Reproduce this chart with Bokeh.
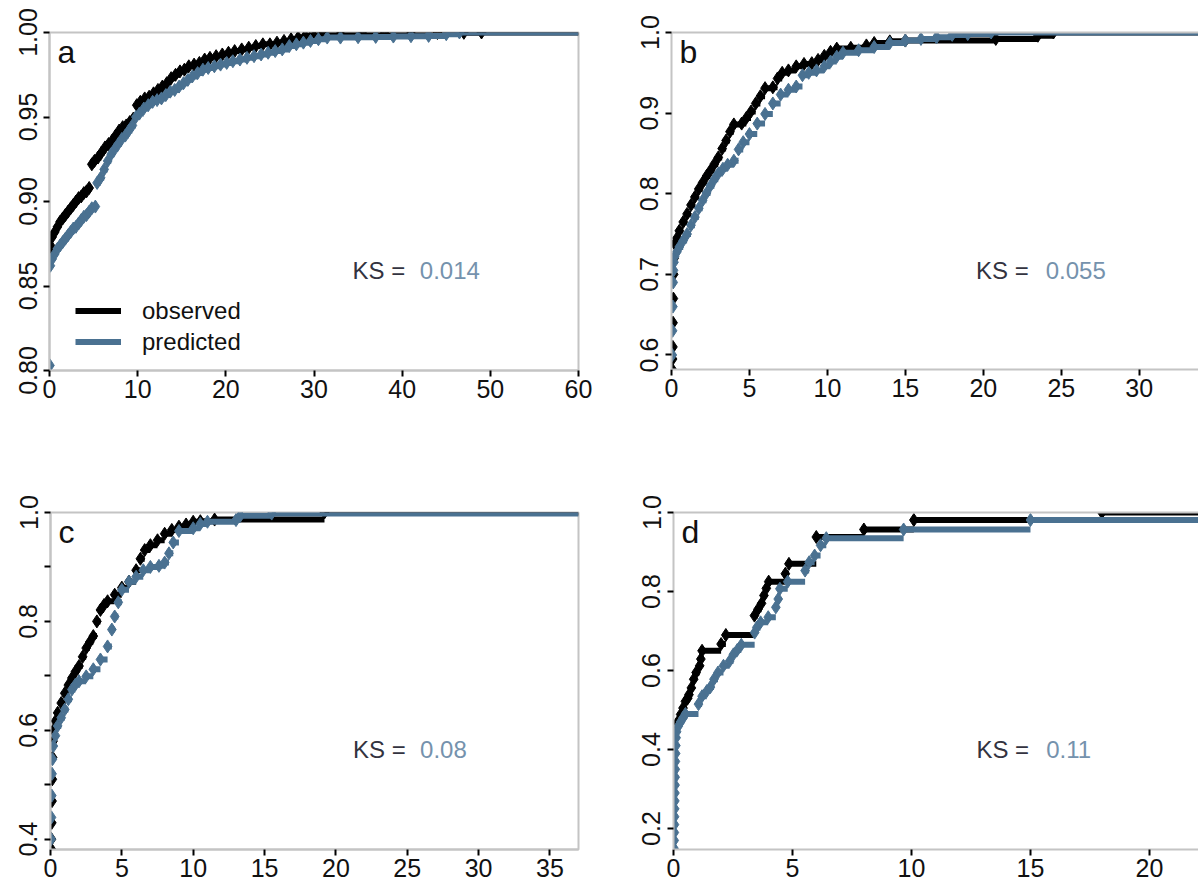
from bokeh.plotting import figure
from bokeh.models import (Range1d, FixedTicker, LinearAxis, Label, Legend,
                          LegendItem, ColumnDataSource)
from bokeh.layouts import column, row
from bokeh.embed import file_html
from bokeh.resources import INLINE

# ---------------- data ----------------
# panel a
obs_a_x = [0.05, 0.1, 0.3, 0.6, 0.9, 1.2, 1.5, 1.8, 2.1, 2.4, 2.7, 3.0, 3.3, 3.6, 3.9, 4.2, 4.5,
           4.8, 5.1, 5.5, 5.9, 6.3, 6.7, 7.1, 7.5, 7.9, 8.3, 8.7, 9.1, 9.5, 9.9, 10.3, 10.8,
           11.3, 11.8, 12.3, 12.8, 13.3, 13.8, 14.3, 14.8, 15.3, 15.8, 16.4, 17.0, 17.6, 18.2,
           18.9, 19.6, 20.3, 21.0, 21.8, 22.6, 23.4, 24.2, 25.0, 25.8, 26.6, 27.4, 28.2, 29.0,
           29.8, 31.0, 33.0, 35.5, 38.0, 41.0, 44.0, 47.0, 49.0]
obs_a_y = [0.870, 0.874, 0.879, 0.882, 0.885, 0.888, 0.890, 0.892, 0.894, 0.896, 0.898, 0.900,
           0.902, 0.903, 0.905, 0.906, 0.908, 0.922, 0.924, 0.926, 0.929, 0.932, 0.934, 0.936,
           0.939, 0.942, 0.944, 0.945, 0.947, 0.949, 0.957, 0.959, 0.961, 0.962, 0.964, 0.966,
           0.968, 0.970, 0.973, 0.975, 0.977, 0.978, 0.980, 0.981, 0.982, 0.984, 0.985, 0.986,
           0.987, 0.988, 0.989, 0.990, 0.991, 0.992, 0.993, 0.993, 0.994, 0.995, 0.996, 0.997,
           0.998, 0.999, 0.999, 0.9992, 0.9994, 0.9995, 0.9996, 0.9997, 0.9998, 1.0]
pred_a_x = [0.05, 0.1, 0.3, 0.6, 0.9, 1.2, 1.5, 1.8, 2.1, 2.4, 2.7, 3.0, 3.3, 3.6, 3.9, 4.2, 4.5,
            4.8, 5.2, 5.4, 5.8, 6.2, 6.6, 7.0, 7.4, 7.8, 8.2, 8.6, 9.0, 9.4, 9.8, 10.2, 10.7,
            11.2, 11.7, 12.2, 12.7, 13.2, 13.7, 14.2, 14.7, 15.2, 15.7, 16.2, 16.8, 17.4, 18.0,
            18.7, 19.4, 20.1, 20.8, 21.6, 22.4, 23.2, 24.0, 24.8, 25.6, 26.4, 27.2, 28.0, 28.8,
            29.6, 30.5, 31.5, 33.0, 35.0, 37.0, 39.0, 41.0, 43.0, 45.0, 46.5]
pred_a_y = [0.803, 0.862, 0.866, 0.869, 0.872, 0.874, 0.876, 0.878, 0.880, 0.882, 0.884, 0.885,
            0.887, 0.889, 0.891, 0.892, 0.894, 0.896, 0.897, 0.911, 0.914, 0.919, 0.924, 0.928,
            0.931, 0.934, 0.937, 0.939, 0.942, 0.945, 0.950, 0.952, 0.955, 0.957, 0.959, 0.960,
            0.961, 0.963, 0.965, 0.966, 0.968, 0.970, 0.972, 0.974, 0.976, 0.978, 0.979, 0.980,
            0.981, 0.982, 0.983, 0.984, 0.985, 0.986, 0.987, 0.988, 0.989, 0.990, 0.992, 0.993,
            0.994, 0.995, 0.996, 0.997, 0.997, 0.9972, 0.9974, 0.9976, 0.9978, 0.998, 0.999, 1.0]

# panel b
obs_b_x = [0.05, 0.07, 0.09, 0.1, 0.12, 0.14, 0.17, 0.2, 0.35, 0.5, 0.75, 1.0, 1.25, 1.5, 1.75,
           2.0, 2.25, 2.5, 2.75, 3.0, 3.25, 3.5, 3.75, 4.0, 4.5, 4.8, 5.1, 5.4, 5.7, 6.0, 6.5,
           6.8, 7.1, 7.5, 8.0, 8.5, 9.0, 9.4, 9.8, 10.2, 10.6, 11.5, 12.5, 13.0, 14.0, 15.0,
           20.8, 23.5, 24.5]
obs_b_y = [0.582, 0.595, 0.61, 0.64, 0.67, 0.70, 0.72, 0.738, 0.745, 0.754, 0.765, 0.775, 0.786,
           0.796, 0.806, 0.814, 0.822, 0.829, 0.837, 0.845, 0.856, 0.866, 0.877, 0.886, 0.887,
           0.894, 0.902, 0.912, 0.921, 0.931, 0.932, 0.943, 0.950, 0.953, 0.958, 0.961, 0.962,
           0.966, 0.971, 0.976, 0.980, 0.981, 0.984, 0.987, 0.989, 0.990, 0.992, 0.996, 1.0]
pred_b_x = [0.05, 0.07, 0.09, 0.11, 0.13, 0.16, 0.2, 0.35, 0.5, 0.75, 1.0, 1.25, 1.5, 1.75, 2.0,
            2.25, 2.5, 2.75, 3.0, 3.3, 3.6, 4.0, 4.3, 4.6, 5.0, 5.5, 6.0, 6.5, 7.0, 7.5, 8.0,
            8.4, 8.8, 9.3, 9.8, 10.2, 10.6, 11.0, 12.0, 13.0, 14.0, 15.0, 16.0, 17.0, 18.0,
            19.0, 20.5]
pred_b_y = [0.60, 0.63, 0.66, 0.69, 0.705, 0.715, 0.722, 0.728, 0.734, 0.742, 0.750, 0.761,
            0.771, 0.782, 0.792, 0.801, 0.810, 0.818, 0.825, 0.831, 0.836, 0.841, 0.855, 0.864,
            0.874, 0.887, 0.899, 0.912, 0.923, 0.929, 0.933, 0.947, 0.950, 0.953, 0.958, 0.964,
            0.970, 0.975, 0.978, 0.982, 0.987, 0.990, 0.992, 0.994, 0.997, 0.998, 1.0]

# panel c
obs_c_x = [0.05, 0.07, 0.09, 0.11, 0.13, 0.15, 0.18, 0.2, 0.35, 0.5, 0.75, 1.0, 1.25, 1.5, 1.75,
           2.0, 2.25, 2.5, 2.75, 3.0, 3.25, 3.5, 3.75, 4.0, 4.5, 5.0, 5.5, 6.0, 6.3, 6.6, 7.0,
           7.5, 8.0, 8.5, 9.0, 9.5, 10.0, 10.5, 11.5, 19.2]
obs_c_y = [0.382, 0.40, 0.43, 0.47, 0.51, 0.55, 0.58, 0.60, 0.617, 0.632, 0.650, 0.668, 0.683,
           0.696, 0.708, 0.718, 0.735, 0.751, 0.762, 0.773, 0.800, 0.821, 0.830, 0.837, 0.849,
           0.862, 0.873, 0.894, 0.915, 0.931, 0.940, 0.949, 0.961, 0.968, 0.974, 0.978, 0.983,
           0.984, 0.987, 1.0]
pred_c_x = [0.05, 0.07, 0.09, 0.11, 0.14, 0.2, 0.35, 0.5, 0.75, 1.0, 1.25, 1.5, 1.75, 2.0, 2.5,
            3.0, 3.5, 4.0, 4.3, 4.5, 4.75, 5.0, 5.5, 6.0, 6.5, 7.0, 7.6, 8.0, 8.3, 8.6, 9.0,
            10.0, 10.5, 11.0, 13.0, 13.3, 15.5]
pred_c_y = [0.40, 0.44, 0.48, 0.52, 0.547, 0.571, 0.59, 0.608, 0.623, 0.638, 0.657, 0.675,
            0.684, 0.690, 0.699, 0.712, 0.730, 0.754, 0.785, 0.809, 0.835, 0.858, 0.873, 0.882,
            0.894, 0.900, 0.902, 0.908, 0.925, 0.945, 0.966, 0.971, 0.979, 0.983, 0.986, 0.994,
            0.998]

# panel d
obs_d_x = [0.03, 0.1, 0.2, 0.3, 0.4, 0.5, 0.6, 0.65, 0.75, 0.85, 0.95, 1.1, 1.15, 1.2, 2.0, 2.2,
           3.4, 3.55, 3.7, 3.8, 3.9, 4.0, 4.7, 4.85, 6.0, 8.0, 10.1, 18.0]
obs_d_y = [0.45, 0.46, 0.472, 0.489, 0.505, 0.522, 0.530, 0.539, 0.556, 0.578, 0.595, 0.612,
           0.629, 0.650, 0.667, 0.690, 0.739, 0.755, 0.770, 0.790, 0.808, 0.825, 0.845, 0.870,
           0.938, 0.957, 0.981, 1.0]
pred_d_x = [0.02, 0.03, 0.035, 0.04, 0.045, 0.05, 0.055, 0.06, 0.065, 0.07, 0.075, 0.08, 0.09,
            0.1, 0.11, 0.13, 0.2, 0.3, 0.4, 0.5, 1.05, 1.2, 1.4, 1.55, 1.7, 1.87, 2.1, 2.36,
            2.52, 2.68, 2.85, 3.41, 3.5, 3.66, 3.98, 4.3, 4.4, 4.47, 4.8, 5.53, 5.7, 5.93, 6.18,
            6.42, 9.67, 15.0]
pred_d_y = [0.15, 0.17, 0.19, 0.21, 0.23, 0.25, 0.27, 0.29, 0.31, 0.33, 0.35, 0.37, 0.39, 0.41,
            0.43, 0.445, 0.459, 0.47, 0.48, 0.49, 0.515, 0.535, 0.548, 0.558, 0.578, 0.595,
            0.612, 0.624, 0.641, 0.652, 0.665, 0.696, 0.709, 0.722, 0.735, 0.76, 0.781, 0.807,
            0.825, 0.853, 0.874, 0.891, 0.917, 0.935, 0.957, 0.981]

panel_letters = ["a", "b", "c", "d"]
ks_values = ["0.014", "0.055", "0.08", "0.11"]
legend_labels = ["observed", "predicted"]

xticks_a = [0, 10, 20, 30, 40, 50, 60]
xticks_b = [0, 5, 10, 15, 20, 25, 30]
xticks_c = [0, 5, 10, 15, 20, 25, 30, 35]
xticks_d = [0, 5, 10, 15, 20]
yticks_a = [0.80, 0.85, 0.90, 0.95, 1.00]
ylabels_a = ["0.80", "0.85", "0.90", "0.95", "1.00"]
yticks_b = [0.6, 0.7, 0.8, 0.9, 1.0]
ylabels_b = ["0.6", "0.7", "0.8", "0.9", "1.0"]
yticks_c = [0.4, 0.5, 0.6, 0.7, 0.8, 0.9, 1.0]
ylabels_c = ["0.4", "", "0.6", "", "0.8", "", "1.0"]
yticks_d = [0.2, 0.4, 0.6, 0.8, 1.0]
ylabels_d = ["0.2", "0.4", "0.6", "0.8", "1.0"]

# ---------------- styling ----------------
FONT = "Liberation Sans"
OBS_COLOR = "#000000"
PRED_COLOR = "#4a7191"
KS_COLOR = "#7592ad"
KS_TEXT = "#333340"
BOX = "#c4c4c4"
TICK_FS = "25px"
LW = 6
MS = 13


def make_panel(letter, ox, oy, px_, py_, xr, yr, xticks, yticks, ylabels, ks,
               geom, cut_right, ks_frac, with_legend=False):
    left, top, fw, fh, right, bottom = geom
    p = figure(x_range=Range1d(*xr), y_range=Range1d(*yr),
               frame_width=fw, frame_height=fh,
               min_border_left=left, min_border_top=top,
               min_border_right=right, min_border_bottom=bottom,
               output_backend="svg", toolbar_location=None)
    p.grid.visible = False
    p.background_fill_color = "white"
    p.border_fill_color = "white"

    xax = p.below[0]
    yax = p.left[0]
    for ax in (xax, yax):
        ax.axis_line_color = BOX
        ax.axis_line_width = 2
        ax.major_tick_line_color = "black"
        ax.major_tick_line_width = 2
        ax.major_tick_in = 0
        ax.major_tick_out = 6
        ax.minor_tick_line_color = None
        ax.major_label_text_font = FONT
        ax.major_label_text_font_size = TICK_FS
        ax.major_label_text_color = "#111111"
    xax.ticker = FixedTicker(ticks=xticks)
    xax.major_label_standoff = 3
    yax.ticker = FixedTicker(ticks=yticks)
    yax.major_label_overrides = {t: s for t, s in zip(yticks, ylabels)}
    yax.major_label_orientation = "vertical"
    yax.major_label_standoff = 7

    if cut_right:
        p.outline_line_color = None
        topax = LinearAxis(ticker=FixedTicker(ticks=[]), major_label_text_font_size="0px",
                           axis_line_color=BOX, axis_line_width=2,
                           major_tick_line_color=None, minor_tick_line_color=None)
        p.add_layout(topax, "above")
    else:
        p.outline_line_color = BOX
        p.outline_line_width = 2

    x_end = xr[1]
    src_o = ColumnDataSource(dict(x0=ox, x1=ox[1:] + [x_end], y=oy))
    src_p = ColumnDataSource(dict(x0=px_, x1=px_[1:] + [x_end], y=py_))
    r_o = p.segment(x0="x0", y0="y", x1="x1", y1="y", source=src_o,
                    line_color=OBS_COLOR, line_width=LW)
    p.scatter(x="x0", y="y", source=src_o, marker="diamond", size=MS,
              fill_color=OBS_COLOR, line_color=OBS_COLOR)
    r_p = p.segment(x0="x0", y0="y", x1="x1", y1="y", source=src_p,
                    line_color=PRED_COLOR, line_width=LW)
    p.scatter(x="x0", y="y", source=src_p, marker="diamond", size=MS,
              fill_color=PRED_COLOR, line_color=PRED_COLOR)

    p.add_layout(Label(x=xr[0], y=yr[1], text=letter, x_offset=8, y_offset=-1,
                       text_baseline="top", text_font=FONT, text_font_size="32px",
                       text_color="#111111"))
    kx = xr[0] + ks_frac[0] * (xr[1] - xr[0])
    kx2 = xr[0] + ks_frac[1] * (xr[1] - xr[0])
    ky = yr[0] + ks_frac[2] * (yr[1] - yr[0])
    p.add_layout(Label(x=kx, y=ky, text="KS =", text_baseline="middle", text_font=FONT,
                       text_font_size="24px", text_color=KS_TEXT))
    p.add_layout(Label(x=kx2, y=ky, text=ks, text_baseline="middle", text_font=FONT,
                       text_font_size="24px", text_color=KS_COLOR))

    if with_legend:
        leg = Legend(items=[LegendItem(label=legend_labels[0], renderers=[r_o]),
                            LegendItem(label=legend_labels[1], renderers=[r_p])],
                     location=(26, 13), orientation="vertical",
                     background_fill_alpha=0, border_line_color=None,
                     padding=0, margin=0, spacing=0,
                     glyph_width=46, glyph_height=31, label_height=31,
                     label_standoff=21, label_text_font=FONT,
                     label_text_font_size="24px", label_text_color="#111111")
        p.add_layout(leg)
    return p


pa = make_panel(panel_letters[0], obs_a_x, obs_a_y, pred_a_x, pred_a_y,
                (0, 60), (0.80, 1.00), xticks_a, yticks_a, ylabels_a, ks_values[0],
                (49, 32, 529, 338, 42, 60), False, (0.573, 0.70, 0.295), with_legend=True)
pb = make_panel(panel_letters[1], obs_b_x, obs_b_y, pred_b_x, pred_b_y,
                (0, 33.8), (0.582, 1.0), xticks_b, yticks_b, ylabels_b, ks_values[1],
                (51, 32, 527, 337, 0, 61), True, (0.578, 0.71, 0.293))
pc = make_panel(panel_letters[2], obs_c_x, obs_c_y, pred_c_x, pred_c_y,
                (0, 37.0), (0.381, 1.0), xticks_c, yticks_c, ylabels_c, ks_values[2],
                (50, 82, 528, 337, 42, 37), False, (0.573, 0.70, 0.297))
pd_ = make_panel(panel_letters[3], obs_d_x, obs_d_y, pred_d_x, pred_d_y,
                 (0, 22.06), (0.147, 1.0), xticks_d, yticks_d, ylabels_d, ks_values[3],
                 (53, 82, 525, 337, 0, 37), True, (0.577, 0.71, 0.297))

layout = column(row(pa, pb), row(pc, pd_))
open("out.html", "w").write(file_html(layout, INLINE))
